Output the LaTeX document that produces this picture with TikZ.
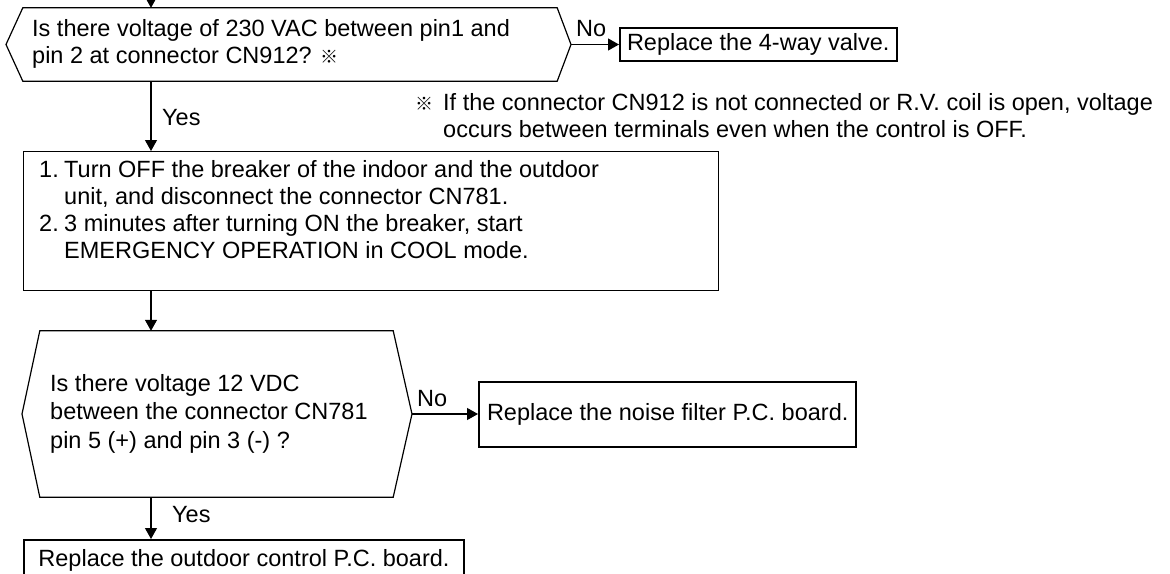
\documentclass[tikz,border=0pt]{standalone}
\usepackage{fontspec}
\setmainfont{Liberation Sans}
\newfontfamily\cjkfont{Noto Sans CJK JP}
\usetikzlibrary{arrows.meta}
\newcommand{\refmark}{{\cjkfont\bfseries\fontsize{18}{18}\selectfont ※}}
\newcommand{\itemno}[1]{\makebox[25pt][l]{#1}}
\begin{document}
\begin{tikzpicture}[x=1pt,y=-1pt,
  every node/.style={font=\fontsize{23.5}{27}\selectfont, inner sep=0pt},
  line/.style={line width=1.2pt, line join=miter},
  arr/.style={line width=1.2pt, -{Triangle[length=11pt,width=12pt]}},
  result/.style={draw, line width=2pt, inner xsep=7pt, inner ysep=0pt},
  procbox/.style={draw, line width=1.2pt},
  core/.style={draw=none, inner sep=0pt},
  lbl/.style={inner sep=0pt}]
\useasboundingbox (0,0) rectangle (1170,573);
\clip (0,0) rectangle (1170,573);

% ---------- decision 1 ----------
\node[core, minimum width=534pt, minimum height=73pt] (h1) at (290,44.5) {};
\coordinate (h1l) at (6,44.5);
\coordinate (h1r) at (571,44.5);
\draw[line] (h1.north west) -- (h1.north east) -- (h1r) -- (h1.south east)
  -- (h1.south west) -- (h1l) -- cycle;
\node[anchor=west] (h1t) at (32,44.5)
  {\begin{tabular}{@{}l@{}}Is there voltage of 230 VAC between pin1 and\\
   pin 2 at connector CN912? \refmark\end{tabular}};

\coordinate (top) at (151,0);
\draw[arr] (top) -- (top |- h1.north);

% ---------- result: 4-way valve ----------
\node[result, anchor=west, minimum height=33pt] (v) at (619,44.5) {Replace the 4-way valve.};
\draw[arr] (h1r) -- (v.west);
\node[lbl, anchor=south west] (no1) at (576,37) {No};

% ---------- note ----------
\node[anchor=north west] (note) at (415,91.1)
  {\begin{tabular}{@{}l@{}l@{}}\makebox[28pt][l]{\refmark}&If the connector CN912 is not connected or R.V. coil is open, voltage\\
   &occurs between terminals even when the control is OFF.\end{tabular}};

% ---------- process box ----------
\node[procbox, anchor=north west, minimum width=695pt, minimum height=139pt] (b2) at (23,151) {};
\node[anchor=north west] (b2t) at (39,158.1)
  {\begin{tabular}{@{}l@{}l@{}}\itemno{1.}&Turn OFF the breaker of the indoor and the outdoor\\
   &unit, and disconnect the connector CN781.\\
   \itemno{2.}&3 minutes after turning ON the breaker, start\\
   &EMERGENCY OPERATION in COOL mode.\end{tabular}};
\draw[arr] (top |- h1.south) -- (top |- b2.north);
\node[lbl, anchor=base west] (yes1) at (162,125) {Yes};

% ---------- decision 2 ----------
\node[core, minimum width=353pt, minimum height=166pt] (h2) at (216.5,414) {};
\coordinate (h2l) at (22,414);
\coordinate (h2r) at (412,414);
\draw[line] (h2.north west) -- (h2.north east) -- (h2r) -- (h2.south east)
  -- (h2.south west) -- (h2l) -- cycle;
\node[anchor=west, font=\fontsize{23.5}{28.5}\selectfont] (h2t) at (50,414)
  {\begin{tabular}{@{}l@{}}Is there voltage 12 VDC\\
   between the connector CN781\\
   pin 5 (+) and pin 3 (-) ?\end{tabular}};
\draw[arr] (top |- b2.south) -- (top |- h2.north);

% ---------- result: noise filter ----------
\node[result, anchor=west, minimum height=65pt, inner xsep=8pt] (nf) at (478,414)
  {Replace the noise filter P.C. board.};
\draw[arr] (h2r) -- (nf.west);
\node[lbl, anchor=south west] (no2) at (417,407) {No};

% ---------- result: outdoor control ----------
\node[result, anchor=north west, minimum width=440pt, minimum height=40pt] (oc) at (23,539)
  {Replace the outdoor control P.C. board.};
\draw[arr] (top |- h2.south) -- (top |- oc.north);
\node[lbl, anchor=base west] (yes2) at (172,522) {Yes};
\end{tikzpicture}
\end{document}
